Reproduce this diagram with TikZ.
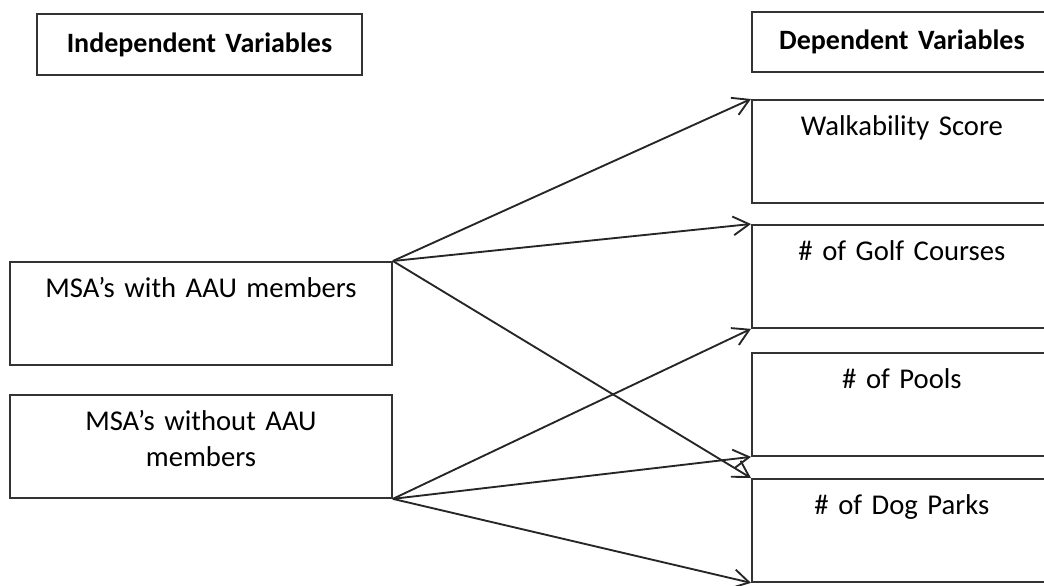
\documentclass[tikz,border=0pt]{standalone}
\usepackage{fontspec}
\setmainfont{Carlito}
\usetikzlibrary{arrows.meta}

\tikzset{every picture/.style={line width=0.75pt}}
\tikzset{
  headbox/.style={draw=black!80, line width=1.4pt, anchor=north west, inner sep=0pt, align=center, font=\fontsize{21}{27}\selectfont\bfseries},
  varbox/.style={draw=black!80, line width=1.4pt, anchor=north west, inner sep=0pt, align=center, font=\fontsize{21.5}{27}\selectfont, text height=27pt, text depth=50.25pt},
  leftbox/.style={varbox, text width=286.5pt},
  rightbox/.style={varbox, text width=225pt},
  link/.style={draw=black!85, line width=1.4pt, -{Straight Barb[length=12pt,width=14pt]}}
}

\begin{document}
\begin{tikzpicture}[x=0.75pt,y=0.75pt,yscale=-1,xscale=1]
\useasboundingbox (0,0) rectangle (1044,585);
\clip (0,0) rectangle (1044,585);

%Shape: Rectangle [headers]
\node [headbox, text width=243.75pt, minimum height=45.75pt] (indep) at (36,13) {Independent Variables};
\node [headbox, text width=225pt, minimum height=45pt] (dep) at (751,11) {Dependent Variables};

%Shape: Rectangle [independent]
\node [leftbox] (msaw) at (9,261) {MSA’s with AAU members};
\node [leftbox] (msawo) at (9,394) {MSA’s without AAU\\members};

%Shape: Rectangle [dependent]
\node [rightbox] (walk) at (751,99) {Walkability Score};
\node [rightbox] (golf) at (751,224) {\# of Golf Courses};
\node [rightbox] (pools) at (751,352) {\# of Pools};
\node [rightbox] (dog) at (751,478) {\# of Dog Parks};

%Straight Lines [arrows]
\draw [link] (msaw.north east) -- (walk.north west);
\draw [link] (msaw.north east) -- (golf.north west);
\draw [link] (msaw.north east) -- (dog.north west);
\draw [link] (msawo.south east) -- (golf.south west);
\draw [link] (msawo.south east) -- (pools.south west);
\draw [link] (msawo.south east) -- (dog.south west);

\end{tikzpicture}
\end{document}
